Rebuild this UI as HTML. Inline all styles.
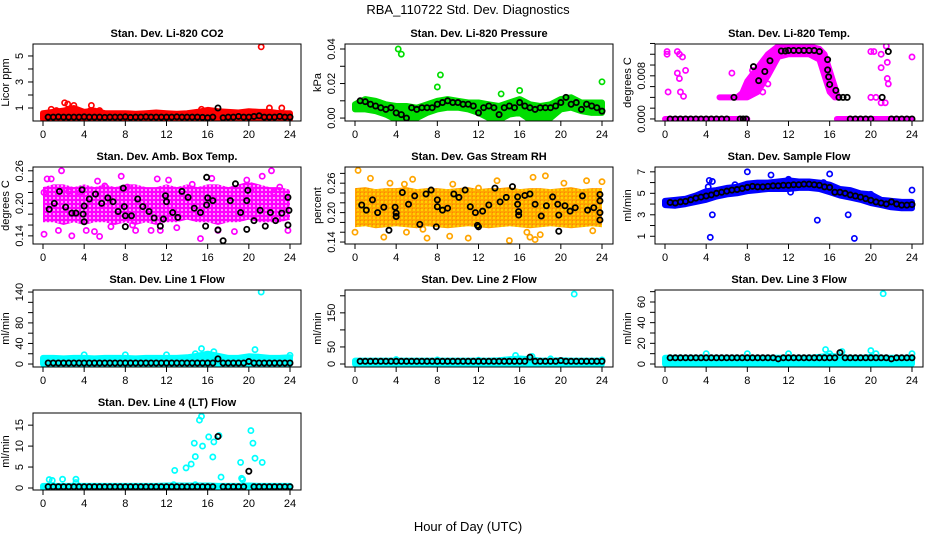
<!DOCTYPE html>
<html><head><meta charset="utf-8">
<style>
html,body{margin:0;padding:0;background:#fff;}
svg{display:block;font-family:"Liberation Sans",Arial,sans-serif;}
</style></head>
<body>
<svg id="chart" width="936" height="540" viewBox="0 0 936 540">
<defs>
<pattern id="pat-mag" width="4" height="4" patternUnits="userSpaceOnUse"><rect width="4" height="4" fill="#ff00ff"/><circle cx="2" cy="2" r="0.9" fill="#fff"/></pattern>
<pattern id="pat-org" width="4" height="4" patternUnits="userSpaceOnUse"><rect width="4" height="4" fill="#ffa500"/><circle cx="2" cy="2" r="1" fill="#ffe000"/><circle cx="0" cy="0" r="0.6" fill="#ff3000"/></pattern>
</defs>
<text x="468" y="14" text-anchor="middle" font-size="13">RBA_110722  Std. Dev. Diagnostics</text>
<text x="468" y="531" text-anchor="middle" font-size="13">Hour of Day (UTC)</text>
</svg>
<script>
const HOURS=[0,1,2,3,4,5,6,7,8,9,10,11,12,13,14,15,16,17,18,19,20,21,22,23,24];
const HALF=[0.5,1,1.5,2,2.5,3,3.5,4,4.5,5,5.5,6,6.5,7,7.5,8,8.5,9,9.5,10,10.5,11,11.5,12,12.5,13,13.5,14,14.5,15,15.5,16,16.5,17,17.5,18,18.5,19,19.5,20,20.5,21,21.5,22,22.5,23,23.5,24];
const X_TICKS=[0,4,8,12,16,20,24];

// P1 CO2
const co2Lo=[0.15,0.15,0.15,0.15,0.15,0.15,0.15,0.15,0.15,0.15,0.15,0.15,0.15,0.15,0.15,0.15,0.15,0.15,0.15,0.15,0.15,0.15,0.15,0.15,0.15];
const co2Hi=[0.6,0.7,0.8,1.0,0.7,0.8,0.6,0.6,0.6,0.55,0.6,0.65,0.6,0.55,0.6,0.7,0.85,0.75,0.7,0.65,0.75,0.7,0.7,0.6,0.6];
const co2Black=[0.3,0.3,0.32,0.3,0.3,0.3,0.3,0.32,0.3,0.3,0.3,0.28,0.3,0.3,0.3,0.32,0.28,0.3,0.3,0.32,0.3,0.3,0.3,0.3,0.3,0.32,0.3,0.3,0.3,0.3,0.28,0.25,0.3,1.0,0.25,0.3,0.3,0.35,0.3,0.3,0.35,0.4,0.3,0.3,0.3,0.35,0.3,0.3];
const co2OutX=[0.8,1.3,2.1,2.4,3.0,4.7,4.6,5.5,15.4,21.2,22.0,23.2];
const co2OutY=[0.9,0.8,1.4,1.3,1.2,1.2,0.8,0.8,0.9,5.7,1.0,1.0];

// P2 Pressure
const prLo=[0.005,0.005,0.004,0.002,-0.001,-0.002,0.000,0.003,0.005,0.006,0.006,0.005,0.003,0.000,-0.001,0.002,0.003,-0.001,-0.002,0.000,0.005,0.006,0.004,0.003,0.003];
const prHi=[0.008,0.011,0.010,0.008,0.007,0.007,0.006,0.008,0.010,0.011,0.010,0.009,0.009,0.008,0.007,0.009,0.011,0.008,0.007,0.008,0.011,0.012,0.009,0.009,0.009];
const prBlack=[0.010,0.0095,0.008,0.007,0.006,0.005,0.006,0.003,0.002,0.000,0.006,0.005,0.006,0.006,0.006,0.008,0.009,0.010,0.009,0.009,0.008,0.008,0.007,0.003,0.006,0.007,0.006,0.002,0.006,0.007,0.006,0.009,0.007,0.006,0.005,0.006,0.006,0.006,0.007,0.009,0.012,0.008,0.009,0.005,0.008,0.007,0.006,0.004];
const prOutX=[4.2,4.5,8.0,8.3,14.2,16.0,24.0];
const prOutY=[0.040,0.037,0.018,0.025,0.014,0.016,0.021];

// P3 Li-820 Temp
const tpBandX=[5.3,7,7.5,8,9,10,11,12,13,14,15,15.5,16,16.5,16.8];
const tpBandLo=[0.004,0.004,0.004,0.004,0.005,0.008,0.0115,0.012,0.012,0.012,0.011,0.008,0.005,0.004,0.004];
const tpBandHi=[0.004,0.004,0.0048,0.007,0.0095,0.012,0.0135,0.0135,0.0135,0.0135,0.013,0.012,0.009,0.006,0.004];
const tpZeroAX=[0,8], tpZeroAY=[0,0];
const tpZeroBX=[16.7,24], tpZeroBY=[0,0];
const tpBlackX=[0.5,1,1.5,2,2.5,3,3.5,4,4.5,5,5.5,6,6.7,7.3,7.6,7.9,8.6,9.1,9.7,10.2,11.3,11.7,12,12.5,13,13.5,14,14.5,15,15.8,15.8,15.9,16.0,16.6,16.9,17.3,17.7,18,18.5,19,19.5,20,21.1,21.7,22,22.5,23,23.5,24];
const tpBlackY=[0,0,0,0,0,0,0,0,0,0,0,0,0.004,0,0,0,0.0097,0.0071,0.0088,0.0108,0.0126,0.0126,0.0127,0.0127,0.0127,0.0127,0.0127,0.0127,0.0125,0.011,0.0091,0.0078,0.0064,0.0053,0.004,0.004,0.004,0,0,0,0,0,0.004,0.0125,0,0,0,0,0];
const tpOutX=[0.2,0.2,1.2,1.4,1.7,0.3,1.2,1.4,1.5,1.8,2.0,20.0,20.3,21.5,21.0,21.6,21.0,21.6,21.7,21.0,21.4,24.0,20.0,20.5,6.5,8.5,9.5,10.0];
const tpOutY=[0.0125,0.012,0.0125,0.012,0.0115,0.005,0.0085,0.0075,0.005,0.0042,0.009,0.0125,0.0125,0.0135,0.012,0.0105,0.0095,0.0075,0.0065,0.003,0.003,0.0115,0.004,0.004,0.0085,0.009,0.005,0.0065];

// P4 Amb Box Temp
const abLo=[0.165,0.165,0.16,0.165,0.16,0.165,0.165,0.16,0.165,0.16,0.165,0.16,0.165,0.165,0.17,0.165,0.165,0.16,0.165,0.165,0.17,0.165,0.165,0.165,0.17];
const abHi=[0.23,0.235,0.235,0.23,0.235,0.23,0.235,0.23,0.235,0.235,0.23,0.23,0.235,0.23,0.235,0.23,0.235,0.235,0.23,0.235,0.24,0.235,0.23,0.23,0.225];
const abOutX=[0.1,0.4,0.8,0.1,1.5,1.8,2.5,2.8,3.6,4.2,5.0,5.3,5.5,6.0,7.6,8.2,9.0,10.5,11.1,11.4,12.2,13.0,14.5,15.3,16.4,17.0,18.6,19.8,20.2,21.3,22.2,22.4,23.0,23.8,6.6,8.7];
const abOutY=[0.22,0.245,0.245,0.143,0.15,0.26,0.222,0.14,0.22,0.15,0.148,0.241,0.139,0.232,0.25,0.23,0.15,0.15,0.245,0.15,0.243,0.155,0.235,0.135,0.246,0.15,0.148,0.243,0.225,0.25,0.26,0.22,0.23,0.15,0.157,0.16];
const abBlackX=[0.6,1.1,1.6,2.2,2.8,3.2,3.8,3.9,4.0,4.0,4.5,5.1,5.7,6.3,6.8,7.3,7.8,7.9,8.0,8.0,8.6,9.2,9.7,10.3,10.8,11.4,11.7,11.9,12.0,12.6,13.1,13.5,14.1,14.7,15.3,15.8,15.9,15.9,16.0,16.5,17.0,17.5,18.2,18.7,19.2,19.8,19.8,19.9,20.5,21.1,21.6,22.1,22.6,23.2,23.8,23.9,23.8];
const abBlackY=[0.189,0.200,0.222,0.193,0.182,0.182,0.225,0.180,0.166,0.195,0.208,0.217,0.200,0.210,0.203,0.185,0.228,0.194,0.177,0.157,0.177,0.208,0.194,0.185,0.173,0.158,0.171,0.214,0.203,0.183,0.174,0.222,0.211,0.191,0.183,0.158,0.248,0.197,0.210,0.205,0.151,0.131,0.205,0.236,0.183,0.205,0.152,0.224,0.168,0.187,0.158,0.183,0.168,0.182,0.211,0.187,0.160];

// P5 Gas Stream RH
const rhLo=[0.17,0.172,0.168,0.17,0.172,0.17,0.168,0.172,0.17,0.168,0.17,0.172,0.17,0.168,0.17,0.172,0.17,0.168,0.17,0.172,0.17,0.168,0.17,0.172,0.17];
const rhHi=[0.25,0.252,0.248,0.25,0.25,0.252,0.248,0.25,0.25,0.248,0.25,0.252,0.248,0.25,0.25,0.252,0.248,0.25,0.25,0.248,0.25,0.252,0.248,0.25,0.25];
const rhOutX=[0.3,1.5,2.8,3.4,4.8,5.0,5.6,6.6,7.0,9.2,9.5,11.0,12.0,13.8,15.0,16.7,17.3,17.0,17.5,18.0,18.5,20.3,22.5,23.1,24.0,0.0];
const rhOutY=[0.286,0.27,0.15,0.26,0.258,0.16,0.268,0.166,0.148,0.152,0.258,0.148,0.25,0.265,0.143,0.16,0.272,0.15,0.145,0.155,0.275,0.26,0.265,0.163,0.263,0.16];
const rhBlackX=[0.65,1.1,1.7,2.2,2.8,3.3,3.9,4.0,4.0,4.6,5.2,5.8,6.3,6.9,7.4,7.9,8.0,8.0,8.5,9.0,9.6,10.1,10.7,11.2,11.7,11.9,12.0,12.4,13.0,13.6,14.1,14.7,15.3,15.8,15.8,15.9,15.9,16.5,17.0,17.5,18.1,18.6,19.2,19.7,19.8,19.8,20.4,20.9,21.4,22.1,22.6,23.2,23.8,23.8,23.8,23.8];
const rhBlackY=[0.2155,0.205,0.226,0.200,0.211,0.164,0.211,0.199,0.192,0.241,0.217,0.234,0.176,0.238,0.246,0.171,0.226,0.212,0.205,0.209,0.238,0.231,0.246,0.212,0.200,0.174,0.171,0.203,0.2155,0.25,0.222,0.231,0.253,0.232,0.217,0.202,0.195,0.235,0.238,0.217,0.193,0.214,0.232,0.217,0.195,0.162,0.214,0.203,0.210,0.234,0.205,0.210,0.237,0.224,0.200,0.185];

// P6 Sample Flow
const sfLo=[3.9,3.85,4.0,4.2,4.4,4.7,4.9,5.0,5.2,5.3,5.4,5.4,5.4,5.5,5.5,5.4,5.1,4.8,4.6,4.4,4.1,3.9,3.7,3.6,3.6];
const sfHi=[4.3,4.4,4.5,4.8,5.2,5.3,5.5,5.6,5.9,6.0,6.0,6.1,6.2,6.1,6.1,6.0,5.8,5.4,5.3,5.0,4.9,4.4,4.3,4.2,4.2];
const sfBlack=[4.15,4.1,4.2,4.25,4.4,4.55,4.65,4.75,4.85,5.0,5.1,5.2,5.3,5.35,5.45,5.55,5.65,5.6,5.6,5.65,5.7,5.7,5.75,5.75,5.8,5.8,5.85,5.85,5.8,5.75,5.6,5.55,5.1,5.1,5.0,4.85,4.75,4.65,4.5,4.35,4.2,4.1,4.0,4.2,4.0,3.9,3.9,3.95];
const sfOutX=[4.3,4.6,4.2,4.4,4.6,8.0,10.3,12.0,14.8,15.4,16.0,17.8,18.4,20.0,24.0,6.8,12.2];
const sfOutY=[6.2,6.1,5.6,0.9,3.0,7.0,6.7,6.3,2.5,6.0,6.8,3.0,0.8,4.9,5.3,5.8,5.1];

// P7 Line 1 Flow
const l1Lo=[0,0,0,0,0,0,0,0,0,0,0,0,0,0,0,0,0,0,0,0,0,0,0,0,0];
const l1Hi=[12,12,11,12,12,11,12,12,12,11,12,12,12,12,13,16,20,16,12,12,15,14,12,12,13];
const l1Black=[2,2,2,2,2,2,2,2,2,2,2,2,2,2,2,2,2,2,2,2,2,2,2,2,2,2,2,2,2,2,2,2,2,10,2,2,2,2,2,5,2,2,2,2,2,2,2,2];
const l1OutX=[21.2,15.4,20.6,16.6,4.0,8.0,12.0,24.0,14.8];
const l1OutY=[140,30,28,24,18,18,18,17,20];

// P8 Line 2 Flow
const l2Lo=[0,0,0,0,0,0,0,0,0,0,0,0,0,0,0,0,0,0,0,0,0,0,0,0,0];
const l2Hi=[10,10,10,10,10,10,10,10,10,10,10,10,10,10,11,14,16,14,10,10,11,10,10,10,10];
const l2Black=[8,8,8,8,8,8,8,8,8,8,8,8,8,8,8,8,8,8,8,8,8,8,8,8,8,8,8,8,8,8,8,8,8,20,8,8,8,8,8,10,8,8,8,8,8,8,8,8];
const l2OutX=[21.3,15.6,17.2,4.0,8.0,12.0,24.0,19.0];
const l2OutY=[205,25,22,13,12,11,12,15];

// P9 Line 3 Flow
const l3Lo=[0,0,0,0,0,0,0,0,0,0,0,0,0,0,0,0,0,0,0,0,0,0,0,0,0];
const l3Hi=[6,6,6,6,6,6,6,6,6,6,6,6,6,6,6,7,8,7,6,6,7,6,6,6,6];
const l3Black=[6,6,6,6,6,6,6,6,6,6,6,6,6,6,6,6,6,6,6,6,6,5,6,6,6,6,6,6,6,6,6,6,6,11,6,6,6,6,6,6,6,6,6,5,6,6,6,6];
const l3OutX=[21.2,15.6,20.0,4.0,8.0,12.0,24.0,16.0,17.2,20.5];
const l3OutY=[68,14,13,10,10,10,10,10,12,10];

// P10 Line 4 (LT) Flow
const l4Lo=[0,0,0,0,0,0,0,0,0,0,0,0,0,0,0,0,0,0,0,0,0,0,0,0,0];
const l4Hi=[0.5,0.5,0.5,0.5,0.5,0.5,0.5,0.5,0.5,0.5,0.5,0.5,0.6,0.6,0.6,0.6,0.6,0.5,0.5,0.5,0.6,0.5,0.5,0.5,0.5];
const l4Black=[0.3,0.3,0.3,0.3,0.3,0.3,0.3,0.3,0.3,0.3,0.3,0.3,0.3,0.3,0.3,0.3,0.3,0.3,0.3,0.3,0.3,0.3,0.3,0.3,0.3,0.3,0.3,0.3,0.3,0.3,0.3,0.3,0.3,12.3,0.3,0.3,0.3,0.3,0.3,4.0,0.3,0.3,0.3,0.3,0.3,0.3,0.3,0.3];
const l4OutX=[0.6,0.9,1.9,3.2,3.2,12.8,13.9,14.4,14.7,14.8,15.2,15.4,15.5,16.1,16.5,16.6,17.1,17.3,19.2,19.3,19.4,20.2,20.4,20.6,21.3,12.7,14.8];
const l4OutY=[2,1.8,2.1,2.1,1.3,4.2,4.8,5.7,10.7,7.5,16.2,17.1,10,12.2,7.4,11,12.5,2.6,6.1,2.3,2,13.7,10.7,7.1,6.1,0.8,0.8];

const panels=[
 {name:'co2',title:'Stan. Dev. Li-820 CO2',ylab:'Licor ppm',col:0,row:0,ymin:0,ymax:5.92,ticks:[1,2,3,4,5],labels:[1,3,5],fmt:v=>String(v),color:'#ff0000',
  bands:[[HOURS,co2Lo,co2Hi]],out:[co2OutX,co2OutY],black:[HALF,co2Black]},
 {name:'pressure',title:'Stan. Dev. Li-820 Pressure',ylab:'kPa',col:1,row:0,ymin:-0.0017,ymax:0.0429,ticks:[0,0.01,0.02,0.03,0.04],labels:[0,0.02,0.04],fmt:v=>v.toFixed(2),color:'#00dd00',
  bands:[[HOURS,prLo,prHi]],out:[prOutX,prOutY],black:[HALF,prBlack]},
 {name:'li820-temp',title:'Stan. Dev. Li-820 Temp.',ylab:'degrees C',col:2,row:0,ymin:-0.00038,ymax:0.0139,ticks:[0,0.002,0.004,0.006,0.008,0.010,0.012,0.014],labels:[0,0.008],fmt:v=>v.toFixed(3),color:'#ff00ff',
  bands:[[tpZeroAX,tpZeroAY,tpZeroAY],[tpZeroBX,tpZeroBY,tpZeroBY],[tpBandX,tpBandLo,tpBandHi]],out:[tpOutX,tpOutY],black:[tpBlackX,tpBlackY]},
 {name:'amb-box-temp',title:'Stan. Dev. Amb. Box Temp.',ylab:'degrees C',col:0,row:1,ymin:0.125,ymax:0.267,ticks:[0.14,0.16,0.18,0.20,0.22,0.24,0.26],labels:[0.14,0.20,0.26],fmt:v=>v.toFixed(2),color:'#ff00ff',fill:'url(#pat-mag)',
  bands:[[HOURS,abLo,abHi]],out:[abOutX,abOutY],black:[abBlackX,abBlackY]},
 {name:'gas-stream-rh',title:'Stan. Dev. Gas Stream RH',ylab:'percent',col:1,row:1,ymin:0.136,ymax:0.293,ticks:[0.14,0.16,0.18,0.20,0.22,0.24,0.26,0.28],labels:[0.14,0.20,0.26],fmt:v=>v.toFixed(2),color:'#ffa500',fill:'url(#pat-org)',
  bands:[[HOURS,rhLo,rhHi]],out:[rhOutX,rhOutY],black:[rhBlackX,rhBlackY]},
 {name:'sample-flow',title:'Stan. Dev. Sample Flow',ylab:'ml/min',col:2,row:1,ymin:0.28,ymax:7.45,ticks:[1,2,3,4,5,6,7],labels:[1,3,5,7],fmt:v=>String(v),color:'#0000ff',
  bands:[[HOURS,sfLo,sfHi]],out:[sfOutX,sfOutY],black:[HALF,sfBlack]},
 {name:'line1-flow',title:'Stan. Dev. Line 1 Flow',ylab:'ml/min',col:0,row:2,ymin:-5.8,ymax:144,ticks:[0,20,40,60,80,100,120,140],labels:[0,40,80,140],fmt:v=>String(v),color:'#00ffff',
  bands:[[HOURS,l1Lo,l1Hi]],out:[l1OutX,l1OutY],black:[HALF,l1Black]},
 {name:'line2-flow',title:'Stan. Dev. Line 2 Flow',ylab:'ml/min',col:1,row:2,ymin:-8.8,ymax:217,ticks:[0,50,100,150,200],labels:[0,50,150],fmt:v=>String(v),color:'#00ffff',
  bands:[[HOURS,l2Lo,l2Hi]],out:[l2OutX,l2OutY],black:[HALF,l2Black]},
 {name:'line3-flow',title:'Stan. Dev. Line 3 Flow',ylab:'ml/min',col:2,row:2,ymin:-2.9,ymax:71.6,ticks:[0,10,20,30,40,50,60,70],labels:[0,20,40,60],fmt:v=>String(v),color:'#00ffff',
  bands:[[HOURS,l3Lo,l3Hi]],out:[l3OutX,l3OutY],black:[HALF,l3Black]},
 {name:'line4-flow',title:'Stan. Dev. Line 4 (LT) Flow',ylab:'ml/min',col:0,row:3,ymin:-0.48,ymax:17.9,ticks:[0,5,10,15],labels:[0,5,10,15],fmt:v=>String(v),color:'#00ffff',
  bands:[[HOURS,l4Lo,l4Hi]],out:[l4OutX,l4OutY],black:[HALF,l4Black]}
];

const NS='http://www.w3.org/2000/svg';
const svg=document.getElementById('chart');
const BOX_L=[33,345,655], BOX_T=[44,167,290,413], BOX_W=268, BOX_H=77;
function mk(tag,attrs,parent){const e=document.createElementNS(NS,tag);for(const k in attrs)e.setAttribute(k,attrs[k]);parent.appendChild(e);return e;}

panels.forEach(p=>{
  const L=BOX_L[p.col], T=BOX_T[p.row], B=T+BOX_H, R=L+BOX_W;
  const xs=h=>L+10+h*247/24;
  const ys=v=>B-(v-p.ymin)/(p.ymax-p.ymin)*BOX_H;
  const g=mk('g',{},svg);
  
  
  const clip=mk('clipPath',{id:'c-'+p.name},g);
  mk('rect',{x:L,y:T,width:BOX_W,height:BOX_H},clip);
  const plot=mk('g',{'clip-path':'url(#c-'+p.name+')'},g);
  
  
  p.bands.forEach(([bx,lo,hi])=>{
    let pts=[];
    for(let i=0;i<bx.length;i++)pts.push(xs(bx[i]).toFixed(1)+','+ys(hi[i]).toFixed(1));
    for(let i=bx.length-1;i>=0;i--)pts.push(xs(bx[i]).toFixed(1)+','+ys(lo[i]).toFixed(1));
    const poly=mk('polygon',{points:pts.join(' '),fill:p.fill||p.color,stroke:p.fill?'none':p.color,'stroke-width':6,'stroke-linejoin':'round'},plot);
    
    
  });
  const [ox,oy]=p.out;
  for(let i=0;i<ox.length;i++){
    const c=mk('circle',{cx:xs(ox[i]),cy:ys(oy[i]),r:2.6,fill:'none',stroke:p.color,'stroke-width':1.7},plot);
    
    
  }
  const [bx,by]=p.black;
  for(let i=0;i<bx.length;i++){
    const c=mk('circle',{cx:xs(bx[i]),cy:ys(by[i]),r:2.6,fill:'none',stroke:'#000','stroke-width':1.8},plot);
    
    
  }
  const box=mk('rect',{x:L,y:T,width:BOX_W,height:BOX_H,fill:'none',stroke:'#000','stroke-width':1},g);
  
  
  mk('line',{x1:xs(0),x2:xs(24),y1:B,y2:B,stroke:'#000'},g);
  X_TICKS.forEach(t=>{
    mk('line',{x1:xs(t),x2:xs(t),y1:B,y2:B+5,stroke:'#000'},g);
    const tx=mk('text',{x:xs(t),y:B+17,'text-anchor':'middle','font-size':11},g);
    tx.textContent=t;
    
    
  });
  mk('line',{x1:L,x2:L,y1:ys(p.ticks[0]),y2:ys(p.ticks[p.ticks.length-1]),stroke:'#000'},g);
  p.ticks.forEach(t=>mk('line',{x1:L-5,x2:L,y1:ys(t),y2:ys(t),stroke:'#000'},g));
  p.labels.forEach(t=>{
    const yy=ys(t), xx=L-10;
    const tx=mk('text',{x:xx,y:yy,'text-anchor':'middle','font-size':11,transform:`rotate(-90 ${xx} ${yy})`},g);
    tx.textContent=p.fmt(t);
    
    
  });
  const yt=L-24, ym=T+BOX_H/2;
  const yl=mk('text',{x:yt,y:ym,'text-anchor':'middle','font-size':11,transform:`rotate(-90 ${yt} ${ym})`},g);
  yl.textContent=p.ylab;
  
  
  const ti=mk('text',{x:L+BOX_W/2,y:T-7,'text-anchor':'middle','font-size':11,'font-weight':'bold'},g);
  ti.textContent=p.title;
  
  
});
</script>
</body></html>
